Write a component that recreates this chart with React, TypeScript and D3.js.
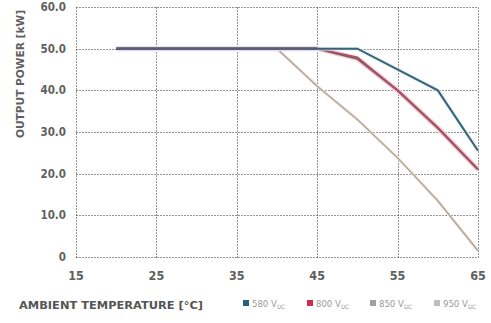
import React from "react";
import * as d3 from "d3";

const xTicks = [15, 25, 35, 45, 55, 65];
const yTicks = [0, 10, 20, 30, 40, 50, 60];

const temps580 = [20, 50, 60, 65];
const vals580 = [50, 50, 40, 25.5];
const temps800 = [20, 45, 50, 55, 60, 65];
const vals800 = [50, 50, 48, 40, 31, 21];
const temps850 = [20, 45, 50, 55, 60, 65];
const vals850 = [50, 50, 47.6, 40, 31, 21];
const temps950 = [20, 40, 45, 50, 55, 60, 65];
const vals950 = [50, 50, 41, 33, 23.8, 13.5, 1.5];

const legendLabels = ["580", "800", "850", "950"];
const legendColors = ["#1f6478", "#d42a4e", "#a0a0a0", "#bdbdbd"];

const W = 491;
const H = 323;

export default function App() {
  const x = d3.scaleLinear().domain([15, 65]).range([76, 478]);
  const y = d3.scaleLinear().domain([0, 60]).range([257, 7]);
  const line = d3
    .line<[number, number]>()
    .x((d) => x(d[0]))
    .y((d) => y(d[1]));
  const pts = (t: number[], v: number[]) => t.map((d, i) => [d, v[i]] as [number, number]);
  const px = (v: number) => Math.round(v) + 0.5;

  const font = "'DejaVu Sans Condensed', 'Liberation Sans Narrow', Arial, sans-serif";
  const legendX = [243, 307, 370, 434];

  return (
    <svg
      width={W}
      height={H}
      style={{ position: "absolute", left: 0, top: 0, background: "#fff" }}
      fontFamily={font}
    >
      <rect width={W} height={H} fill="#fff" />
      {yTicks.map((t) => (
        <line
          key={"h" + t}
          x1={px(x(15))}
          x2={px(x(65))}
          y1={px(y(t))}
          y2={px(y(t))}
          stroke="#2a2a2a"
          strokeWidth={1}
          strokeDasharray="1,2"
        />
      ))}
      {xTicks.map((t) => (
        <line
          key={"v" + t}
          x1={px(x(t))}
          x2={px(x(t))}
          y1={px(y(0))}
          y2={px(y(60))}
          stroke="#2a2a2a"
          strokeWidth={1}
          strokeDasharray="1,2"
        />
      ))}
      {yTicks.map((t) => (
        <text
          key={"yl" + t}
          x={66}
          y={y(t)}
          dy="0.35em"
          textAnchor="end"
          fontSize={11.5}
          fontWeight="bold"
          fill="#606060"
        >
          {t === 0 ? "0" : t.toFixed(1)}
        </text>
      ))}
      {xTicks.map((t) => (
        <text
          key={"xl" + t}
          x={x(t)}
          y={280}
          textAnchor="middle"
          fontSize={12.5}
          fontWeight="bold"
          fill="#606060"
        >
          {t}
        </text>
      ))}
      <text
        transform={`translate(24,74) rotate(-90)`}
        textAnchor="middle"
        fontSize={11}
        fontWeight="bold"
        fill="#606060"
        textLength={128}
        lengthAdjust="spacingAndGlyphs"
      >
        OUTPUT POWER [kW]
      </text>
      <text
        x={19}
        y={309}
        fontSize={11}
        fontWeight="bold"
        fill="#555"
        textLength={184}
        lengthAdjust="spacingAndGlyphs"
      >
        AMBIENT TEMPERATURE [°C]
      </text>

      {/* 950 */}
      <path d={line(pts(temps950, vals950)) || ""} fill="none" stroke="#ece4d8" strokeWidth={3} />
      <path d={line(pts(temps950, vals950)) || ""} fill="none" stroke="#b0a49c" strokeWidth={1.3} />
      {/* 850 */}
      <path d={line(pts(temps850, vals850)) || ""} fill="none" stroke="#f6d0d8" strokeWidth={5} />
      <path d={line(pts(temps850, vals850)) || ""} fill="none" stroke="#806068" strokeWidth={2.4} />
      {/* 800 */}
      <path d={line(pts(temps800, vals800)) || ""} fill="none" stroke="#bd4a66" strokeWidth={1.3} />
      {/* 580 */}
      <path d={line(pts(temps580, vals580)) || ""} fill="none" stroke="#d3ecf1" strokeWidth={4} opacity={0.7} />
      <path d={line(pts(temps580, vals580)) || ""} fill="none" stroke="#3b6277" strokeWidth={2} />
      <path
        d={line(pts([20, 45], [50, 50])) || ""}
        fill="none"
        stroke="#585e7c"
        strokeWidth={2.6}
      />

      {legendLabels.map((l, i) => (
        <g key={l}>
          <rect x={legendX[i]} y={300} width={6} height={6} fill={legendColors[i]} />
          <text x={legendX[i] + 9} y={307} fontSize={9.5} fill="#999">
            {l} V
            <tspan fontSize={6} dy={1.5}>DC</tspan>
          </text>
        </g>
      ))}
    </svg>
  );
}
